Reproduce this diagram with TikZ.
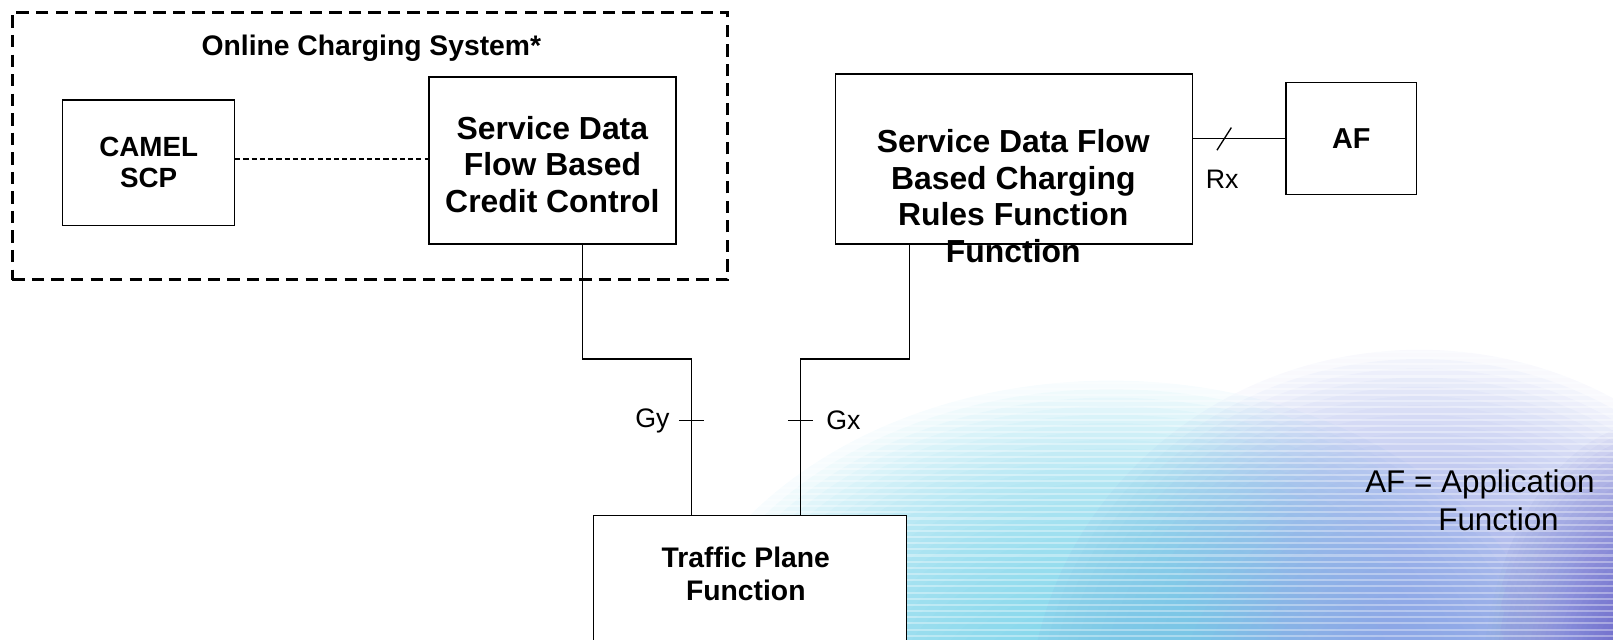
\documentclass[tikz,border=0pt]{standalone}
\usepackage{fontspec}
\setmainfont{Liberation Sans}

% colours of the soft glow in the lower right corner
\definecolor{glowcyan}{RGB}{112,208,232}
\definecolor{glowlav}{RGB}{145,160,228}
\definecolor{glowpurple}{RGB}{95,88,198}

\tikzset{
  box/.style={draw, line width=1.4pt, fill=white, inner sep=0pt, align=center},
  boxtext/.style={align=center, inner sep=0pt},
  ocsbox/.style={draw, line width=3pt, dash pattern=on 12pt off 7pt, inner sep=0pt},
  wire/.style={line width=1.3pt},
  thinwire/.style={line width=1.1pt, dash pattern=on 5pt off 3pt},
  lbl/.style={font=\fontsize{26}{30}\selectfont, inner sep=0pt},
  glowlayer/.style={fill=#1, fill opacity=0.06},
}

\begin{document}
\begin{tikzpicture}[x=1pt,y=-1pt]
\useasboundingbox (0,0) rectangle (1568,622);

% background glow: stacks of translucent ellipses
\begin{scope}
  \clip (0,0) rectangle (1568,622);
  \foreach \s in {1.0,0.975,...,0.2} {
    \fill[glowlayer=glowcyan] (1080,700) ellipse [x radius=440*\s, y radius=330*\s];
    \fill[glowlayer=glowlav] (1380,700) ellipse [x radius=380*\s, y radius=360*\s];
    \fill[glowlayer=glowpurple, fill opacity=0.05] (1610,680) ellipse [x radius=170*\s, y radius=270*\s];
  }
  % fine horizontal lines over the glow
  \foreach \yy in {300,306,...,622}
    \draw[white, opacity=0.35, line width=2pt] (620,\yy) -- (1568,\yy);
\end{scope}

% online charging system frame
\node[ocsbox, minimum width=695pt, minimum height=260pt] (ocs) at (359.5,142) {};
\node[font=\bfseries\fontsize{27.5}{32}\selectfont] (ocstitle) at (361,47) {Online Charging System*};

% boxes
\node[box, minimum width=167pt, minimum height=122pt, font=\bfseries\fontsize{27}{30}\selectfont] (camel) at (144.5,158) {CAMEL\\SCP};
\node[box, minimum width=240pt, minimum height=162pt] (sdfcc) at (537,156) {};
\node[boxtext, font=\bfseries\fontsize{31}{35}\selectfont] (sdfcctext) at (537,160) {Service Data\\Flow Based\\Credit Control};
\node[box, minimum width=347pt, minimum height=165pt] (sdfcr) at (985.5,154.5) {};
\node[boxtext, font=\bfseries\fontsize{31}{35.7}\selectfont] (sdfcrtext) at (985,190.5) {Service Data Flow\\Based Charging\\Rules Function\\Function};
\node[box, minimum width=127pt, minimum height=109pt, font=\bfseries\fontsize{28}{32}\selectfont] (af) at (1313.5,134.5) {AF};
\node[box, minimum width=304pt, minimum height=160pt] (tpf) at (729,581) {};
\node[boxtext, font=\bfseries\fontsize{27.5}{32}\selectfont] (tpftext) at (725,558) {Traffic Plane\\Function};

% CAMEL to credit control
\coordinate (dl) at (0,154.5);
\draw[thinwire] (camel.east |- dl) -- (sdfcc.west |- dl);

% Gy interface
\coordinate (gyx) at (566,0);
\coordinate (gyk) at (672,349);
\coordinate (gyt) at (672,409);
\draw[wire] (sdfcc.south -| gyx) |- (gyk) -- (tpf.north -| gyk);
\draw[wire] ([xshift=-12pt]gyt) -- ([xshift=12pt]gyt);
\node[lbl, anchor=east] (gylbl) at (651,409) {Gy};

% Gx interface
\coordinate (gxx) at (884,0);
\coordinate (gxk) at (778,349);
\coordinate (gxt) at (778,409);
\draw[wire] (sdfcr.south -| gxx) |- (gxk) -- (tpf.north -| gxk);
\draw[wire] ([xshift=-12pt]gxt) -- ([xshift=12pt]gxt);
\node[lbl, anchor=west] (gxlbl) at (803,409) {Gx};

% Rx interface
\draw[wire] (sdfcr.east |- af.west) -- (af.west);
\coordinate (rxt) at (1190,135);
\draw[wire] ([shift={(-7,11)}]rxt) -- ([shift={(7,-11)}]rxt);
\node[lbl] (rxlbl) at (1188,174) {Rx};

% legend
\node[anchor=north west, align=left, inner sep=0pt, font=\fontsize{30.5}{37}\selectfont] (legend) at (1327,456) {AF = Application\\\hspace*{71pt}Function};
\end{tikzpicture}
\end{document}
